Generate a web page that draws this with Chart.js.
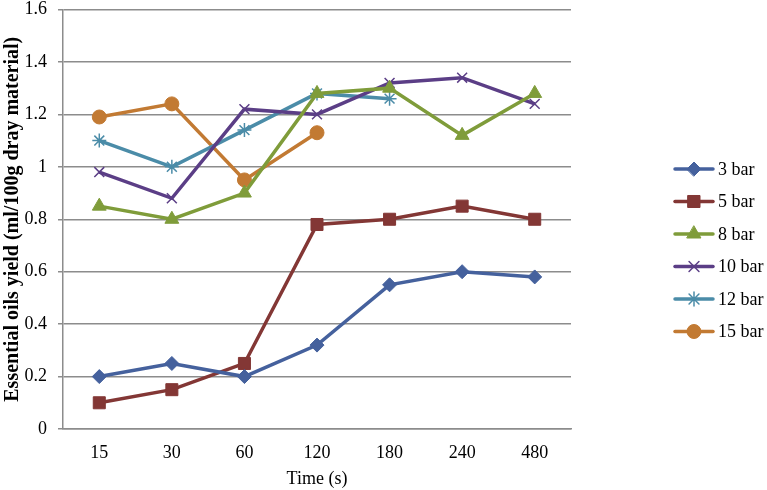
<!DOCTYPE html>
<html>
<head>
<meta charset="utf-8">
<script src="https://cdn.jsdelivr.net/npm/chart.js@4.4.0/dist/chart.umd.min.js"></script>
<style>
  body { margin: 0; background: #fff; }
  #wrap { width: 767px; height: 490px; position: relative; }
</style>
</head>
<body>
<div id="wrap"><canvas id="myChart"></canvas></div>
<script>
const times = ['15', '30', '60', '120', '180', '240', '480']
const bar3 = [0.2, 0.25, 0.2, 0.32, 0.55, 0.6, 0.58]
const bar5 = [0.1, 0.15, 0.25, 0.78, 0.8, 0.85, 0.8]
const bar8 = [0.85, 0.8, 0.9, 1.28, 1.3, 1.12, 1.28]
const bar10 = [0.98, 0.88, 1.22, 1.2, 1.32, 1.34, 1.24]
const bar12 = [1.1, 1.0, 1.14, 1.28, 1.26, null, null]
const bar15 = [1.19, 1.24, 0.95, 1.13, null, null, null]
const yTicks = [0, 0.2, 0.4, 0.6, 0.8, 1, 1.2, 1.4, 1.6]

const serif = "'Liberation Serif', 'Times New Roman', serif"

function line(label, data, color, style, radius) {
  return {
    label: label,
    data: data,
    borderColor: color,
    backgroundColor: color,
    borderWidth: 3.5,
    pointStyle: style,
    pointRadius: radius,
    pointBorderWidth: style === 'crossRot' || style === 'star' ? 1.5 : 1,
    pointBorderColor: color,
    pointBackgroundColor: color,
    spanGaps: false,
    tension: 0
  }
}

// legend drawn by hand: short line with the marker in the middle
const sideLegend = {
  id: 'sideLegend',
  afterDraw(chart) {
    const c = chart.ctx
    const x0 = 675, x1 = 713
    let y = 169
    chart.data.datasets.forEach(ds => {
      c.save()
      c.strokeStyle = ds.borderColor
      c.lineWidth = 3.5
      c.lineCap = 'round'
      c.beginPath()
      c.moveTo(x0, y)
      c.lineTo(x1, y)
      c.stroke()
      c.fillStyle = ds.borderColor
      c.strokeStyle = ds.borderColor
      c.lineWidth = ds.pointBorderWidth
      Chart.helpers.drawPoint(c, { pointStyle: ds.pointStyle, radius: ds.pointRadius, rotation: 0, borderWidth: ds.pointBorderWidth }, (x0 + x1) / 2, y)
      c.fillStyle = '#000'
      c.font = '18px ' + serif
      c.textBaseline = 'middle'
      c.fillText(ds.label, x1 + 5, y + 1)
      c.restore()
      y += 32.5
    })
  }
}

const ctx = document.getElementById('myChart')

new Chart(ctx, {
  type: 'line',
  data: {
    labels: times,
    datasets: [
      line('3 bar', bar3, '#45619d', 'rectRot', 7),
      line('5 bar', bar5, '#833735', 'rect', 8.5),
      line('8 bar', bar8, '#7f9c3a', 'triangle', 8),
      line('10 bar', bar10, '#5b3e86', 'crossRot', 7),
      line('12 bar', bar12, '#4b8ca8', 'star', 7),
      line('15 bar', bar15, '#c27a33', 'circle', 7)
    ]
  },
  plugins: [sideLegend],
  options: {
    responsive: true,
    maintainAspectRatio: false,
    animation: false,
    layout: { padding: { left: 0, top: 7, right: 196, bottom: 0 } },
    plugins: {
      legend: { display: false },
      tooltip: { enabled: false }
    },
    scales: {
      x: {
        offset: true,
        grid: { display: false, drawTicks: false },
        border: { color: '#8c8c8c', width: 1.5 },
        ticks: { color: '#000', font: { family: serif, size: 18 }, padding: 13 },
        title: { display: true, text: 'Time (s)', color: '#000', font: { family: serif, size: 18 }, padding: { top: 2, bottom: 0 } },
        afterFit(axis) { axis.height = 61; axis.paddingLeft = 0; axis.paddingRight = 0 }
      },
      y: {
        min: 0,
        max: 1.6,
        afterBuildTicks(axis) { axis.ticks = yTicks.map(v => ({ value: v })) },
        grid: { color: '#8c8c8c', lineWidth: 1.5, tickLength: 5 },
        border: { color: '#8c8c8c', width: 1.5 },
        ticks: {
          color: '#000',
          font: { family: serif, size: 18 },
          padding: 11,
          callback: v => String(Number(v.toFixed(1)))
        },
        title: { display: true, text: 'Essential oils yield (ml/100g dray material)', color: '#000', font: { family: serif, size: 20, weight: 'bold' }, padding: { top: 1, bottom: 2 } },
        afterFit(axis) { axis.width = 63; axis.paddingTop = 0; axis.paddingBottom = 0 }
      }
    }
  }
});
</script>
</body>
</html>
